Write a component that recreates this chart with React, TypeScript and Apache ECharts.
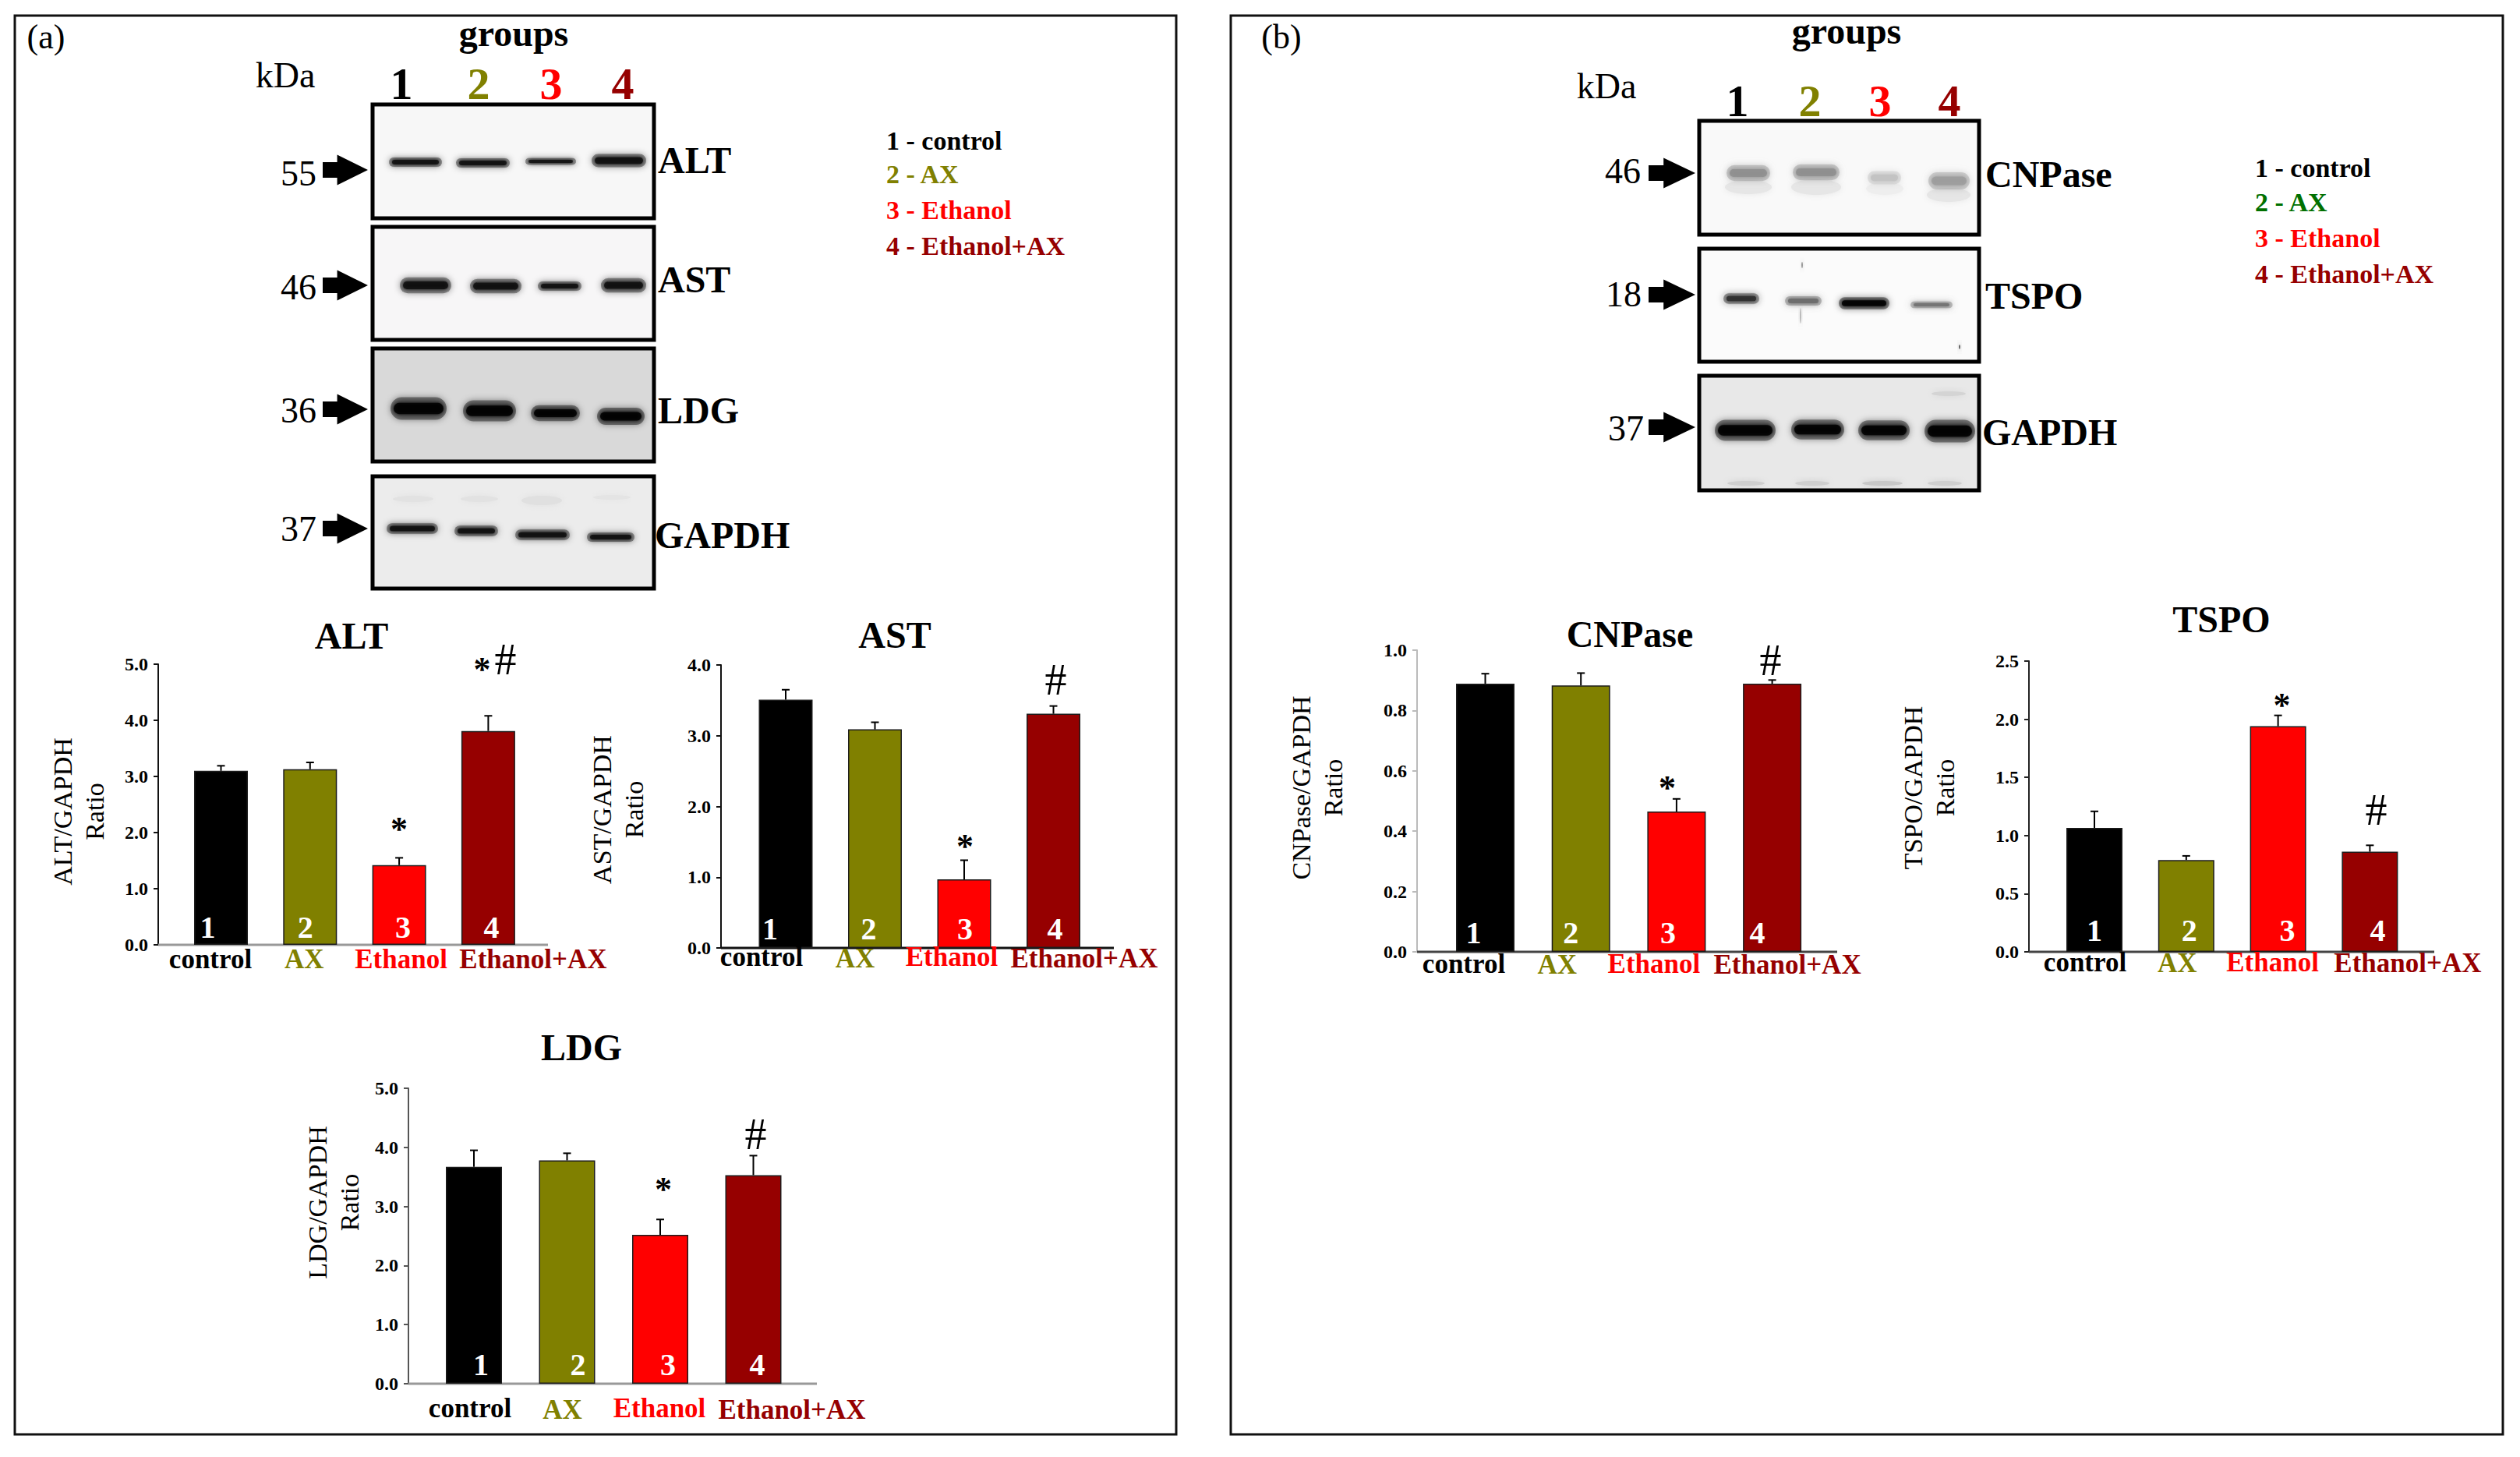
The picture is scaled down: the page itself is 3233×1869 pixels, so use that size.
import React, { useEffect, useRef } from "react";
import * as echarts from "echarts";

// ---------- data ----------
const categories = ["control", "AX", "Ethanol", "Ethanol+AX"];
const barNumbers = ["1", "2", "3", "4"];
const legendA = ["1 - control", "2 - AX", "3 - Ethanol", "4 - Ethanol+AX"];

const altValues = [3.1, 3.13, 1.42, 3.81];
const altTops = [3.19, 3.25, 1.55, 4.08];
const astValues = [3.51, 3.09, 0.97, 3.31];
const astTops = [3.65, 3.19, 1.24, 3.42];
const ldgValues = [3.67, 3.78, 2.52, 3.53];
const ldgTops = [3.95, 3.9, 2.78, 3.86];
const cnpaseValues = [0.889, 0.883, 0.465, 0.889];
const cnpaseTops = [0.922, 0.924, 0.507, 0.901];
const tspoValues = [1.065, 0.79, 1.94, 0.861];
const tspoTops = [1.208, 0.825, 2.033, 0.916];

const altMarks: [number, number, string, number][] = [[2, 2.12, "*", 0], [3, 4.97, "*", -8], [3, 5.09, "#", 22]];
const astMarks: [number, number, string, number][] = [[2, 1.48, "*", 1], [3, 3.79, "#", 3]];
const ldgMarks: [number, number, string, number][] = [[2, 3.34, "*", 4], [3, 4.22, "#", 3]];
const cnpaseMarks: [number, number, string, number][] = [[2, 0.553, "*", -12], [3, 0.966, "#", -2]];
const tspoMarks: [number, number, string, number][] = [[2, 2.15, "*", 5], [3, 1.22, "#", 8]];

// ---------- styles and layout ----------
const SERIF = "'Liberation Serif', 'Times New Roman', serif";
const BLACK = "#000000";
const OLIVE = "#808000";
const RED = "#ff0000";
const DARKRED = "#960000";
const barColors = [BLACK, OLIVE, RED, DARKRED];

type Panel = {
  title: string; titleX: number; titleY: number; name: string; nameGap: number; nameShift: number;
  axisX: number; axisRight: number; yTop: number; yZero: number; center0: number; spacing: number; barW: number;
  max: number; interval: number; values: number[]; tops: number[]; marks: [number, number, string, number][];
  labelDx: number[]; labelDy: number[]; labelMargin: number; numDx: number[]; numY: number;
  yLine: string; xLine: string; xLineW: number;
};

const panels: Panel[] = [
  { title: "ALT", titleX: 446, titleY: 811, name: "ALT/GAPDH\nRatio", nameGap: 61, nameShift: 9, axisX: 203, axisRight: 703, yTop: 852, yZero: 1212, center0: 283.5, spacing: 114.3, barW: 69,
    max: 5, interval: 1, values: altValues, tops: altTops, marks: altMarks, labelDx: [-13.5, -7.5, 2.5, 57.5], labelDy: [0, 0, 0, 0], labelMargin: 1, numDx: [-17, -6, 5, 4], numY: 1189, yLine: "#111", xLine: "#999", xLineW: 3 },
  { title: "AST", titleX: 1143, titleY: 810, name: "AST/GAPDH\nRatio", nameGap: 91, nameShift: 4, axisX: 925, axisRight: 1429, yTop: 853, yZero: 1216, center0: 1008, spacing: 114.5, barW: 69,
    max: 4, interval: 1, values: astValues, tops: astTops, marks: astMarks, labelDx: [-31, -25.5, -16, 39.5], labelDy: [0, 2, 0, 2], labelMargin: -6, numDx: [-20, -8, 1, 2], numY: 1191, yLine: "#111", xLine: "#111", xLineW: 3 },
  { title: "LDG", titleX: 741, titleY: 1339, name: "LDG/GAPDH\nRatio", nameGap: 55, nameShift: -43, axisX: 524, axisRight: 1048, yTop: 1396, yZero: 1775, center0: 608, spacing: 119.5, barW: 72,
    max: 5, interval: 1, values: ldgValues, tops: ldgTops, marks: ldgMarks, labelDx: [-5, -6, -1, 49.5], labelDy: [0, 2, 0, 2], labelMargin: 14, numDx: [9, 14, 10, 5], numY: 1750, yLine: "#555", xLine: "#999", xLineW: 3 },
  { title: "CNPase", titleX: 2086, titleY: 809, name: "CNPase/GAPDH\nRatio", nameGap: 87, nameShift: -17, axisX: 1818, axisRight: 2357, yTop: 834, yZero: 1221, center0: 1905.5, spacing: 122.7, barW: 75,
    max: 1, interval: 0.2, values: cnpaseValues, tops: cnpaseTops, marks: cnpaseMarks, labelDx: [-27.5, -30.5, -29, 19.5], labelDy: [0, 1, 0, 1], labelMargin: -2, numDx: [-15, -13, -11, -19], numY: 1196, yLine: "#bbb", xLine: "#444", xLineW: 3 },
  { title: "TSPO", titleX: 2845, titleY: 790, name: "TSPO/GAPDH\nRatio", nameGap: 87, nameShift: -24, axisX: 2603, axisRight: 3123, yTop: 848, yZero: 1221, center0: 2687, spacing: 117.8, barW: 72,
    max: 2.5, interval: 0.5, values: tspoValues, tops: tspoTops, marks: tspoMarks, labelDx: [-12, -11.5, -7, 48.5], labelDy: [0, 1, 0, 1], labelMargin: -4, numDx: [0, 4, 12, 10], numY: 1193, yLine: "#222", xLine: "#444", xLineW: 3 },
];

function txt(text: string, x: number, y: number, size: number, fill = "#000", bold = false, align = "center") {
  return {
    type: "text", x, y, z: 5,
    style: { text, fill, font: `${bold ? "bold " : ""}${size}px ${SERIF}`, textAlign: align, textVerticalAlign: "middle" },
  };
}
function arrow(xl: number, xr: number, y: number) {
  const xm = xl + (xr - xl) * 0.32, h = 19.5, s = 10;
  return {
    type: "polygon", z: 5,
    shape: { points: [[xl, y - s], [xm, y - s], [xm, y - h], [xr, y], [xm, y + h], [xm, y + s], [xl, y + s]] },
    style: { fill: "#000" },
  };
}
function smear(cx: number, cy: number, rx: number, ry: number, c: string) {
  return { type: "ellipse", z: 2, shape: { cx, cy, rx, ry }, style: { fill: c, shadowBlur: 8, shadowColor: c } };
}
function blot(x: number, y: number, w: number, h: number, bg: string, bands: any[][], color = "#111", extras: any[] = []) {
  const out: any[] = [{ type: "rect", z: 1, shape: { x, y, width: w, height: h }, style: { fill: bg, stroke: "none" } }];
  out.push(...extras);
  for (const b of bands) {
    const c = b[4] || color;
    const ht = b[3] * 1.7;
    // soft halo, then the dense core of the band
    out.push({
      type: "rect", z: 2, shape: { x: b[0] + 2, y: b[2] - ht / 2, width: b[1] - b[0] - 4, height: ht, r: ht / 2 },
      style: { fill: c, opacity: 0.4, shadowBlur: 9, shadowColor: c },
    });
    out.push({
      type: "rect", z: 2, shape: { x: b[0] + 6, y: b[2] - b[3] * 0.42, width: b[1] - b[0] - 12, height: b[3] * 0.84, r: b[3] * 0.42 },
      style: { fill: c, opacity: 0.85, shadowBlur: 5, shadowColor: c },
    });
  }
  out.push({ type: "rect", z: 3, shape: { x, y, width: w, height: h }, style: { fill: "none", stroke: "#000", lineWidth: 5 } });
  return out;
}

function buildGraphics() {
  const g: any[] = [];
  g.push({ type: "rect", z: 0, shape: { x: 19, y: 20, width: 1490, height: 1820 }, style: { fill: "none", stroke: "#111", lineWidth: 3 } });
  g.push({ type: "rect", z: 0, shape: { x: 1579, y: 20, width: 1632, height: 1820 }, style: { fill: "none", stroke: "#111", lineWidth: 3 } });
  g.push(txt("(a)", 59, 47, 44), txt("(b)", 1644, 47, 44));
  g.push(txt("groups", 659, 42, 48, "#000", true), txt("groups", 2369, 39, 48, "#000", true));
  g.push(txt("kDa", 366, 96, 46), txt("kDa", 2061, 110, 46));
  [515, 614, 707, 799].forEach((x, i) => g.push(txt(barNumbers[i], x, 107, 58, barColors[i], true)));
  [2229, 2322, 2412, 2501].forEach((x, i) => g.push(txt(barNumbers[i], x, 129, 58, barColors[i], true)));

  // panel (a) blots
  g.push(...blot(478, 134, 361, 146, "#f7f7f7", [[497, 569, 208, 7], [583, 656, 209, 7], [672, 741, 207, 5], [757, 831, 206, 10]]));
  g.push(...blot(478, 291, 361, 145, "#f7f6f7", [[511, 581, 366, 12], [601, 671, 367, 11], [688, 748, 367, 7], [769, 831, 366, 11]]));
  g.push(...blot(478, 447, 361, 145, "#d9d9d9", [[499, 575, 524, 17], [592, 664, 527, 16], [679, 746, 530, 12], [764, 829, 534, 13]], "#000"));
  g.push(...blot(478, 611, 361, 144, "#ececec", [[494, 564, 678, 8], [581, 641, 681, 8], [659, 733, 686, 8], [751, 816, 689, 7]], "#111", [
    smear(530, 640, 26, 4, "#e2e2e2"), smear(615, 640, 24, 4, "#e2e2e2"), smear(695, 642, 26, 6, "#e0e0e0"), smear(785, 638, 24, 3, "#e4e4e4"),
  ]));
  // panel (b) blots
  g.push(...blot(2180, 155, 359, 146, "#f9f9f9", [
    [2213, 2273, 222, 12, "#8e8e8e"], [2298, 2362, 221, 12, "#8e8e8e"], [2394, 2441, 228, 10, "#c2c2c2"], [2472, 2529, 232, 13, "#9c9c9c"]], "#999", [
    smear(2243, 240, 30, 9, "#e6e6e6"), smear(2330, 240, 32, 10, "#e6e6e6"), smear(2418, 242, 24, 8, "#eeeeee"), smear(2500, 250, 28, 9, "#e6e6e6"),
  ]));
  g.push(...blot(2180, 319, 359, 145, "#fbfbfb", [[2209, 2259, 383, 8, "#2a2a2a"], [2288, 2339, 386, 7, "#6a6a6a"], [2357, 2426, 389, 9, "#000"], [2449, 2507, 391, 5, "#707070"]], "#111", [
    smear(2312, 340, 1, 4, "#999"), smear(2310, 405, 1, 10, "#bbb"), smear(2514, 445, 1, 3, "#666"),
  ]));
  g.push(...blot(2180, 482, 359, 147, "#e8e8e8", [[2198, 2280, 552, 16], [2296, 2368, 551, 15], [2382, 2452, 552, 15], [2467, 2536, 553, 17]], "#000", [
    smear(2240, 620, 24, 3, "#cfcfcf"), smear(2325, 620, 22, 3, "#cfcfcf"), smear(2415, 620, 26, 3, "#c8c8c8"), smear(2495, 620, 22, 3, "#cfcfcf"),
    smear(2500, 505, 22, 3, "#d4d4d4"),
  ]));

  // molecular weight labels and arrows
  ([["55", 383, 222, 218], ["46", 383, 368, 366], ["36", 383, 526, 525], ["37", 383, 678, 678]] as [string, number, number, number][]).forEach(([t, x, y, ay]) => {
    g.push(txt(t, x, y, 46), arrow(414, 472, ay));
  });
  ([["46", 2082, 219, 222], ["18", 2083, 377, 378], ["37", 2086, 549, 548]] as [string, number, number, number][]).forEach(([t, x, y, ay]) => {
    g.push(txt(t, x, y, 46), arrow(2115, 2175, ay));
  });
  // blot labels
  ([["ALT", 844, 205], ["AST", 844, 358], ["LDG", 844, 526], ["GAPDH", 840, 686], ["CNPase", 2547, 223], ["TSPO", 2547, 379], ["GAPDH", 2543, 554]] as [string, number, number][]).forEach(([t, x, y]) => {
    g.push(txt(t, x, y, 48, "#000", true, "left"));
  });
  // legends
  [180, 223, 269, 315].forEach((y, i) => g.push(txt(legendA[i], 1137, y, 34, barColors[i], true, "left")));
  const legendBColors = [BLACK, "#007000", RED, DARKRED];
  [215, 259, 305, 351].forEach((y, i) => g.push(txt(legendA[i], 2893, y, 34, legendBColors[i], true, "left")));

  // x axis lines extend beyond the category bands
  panels.forEach((p) => {
    g.push({ type: "line", z: 1, shape: { x1: p.axisX, y1: p.yZero, x2: p.axisRight, y2: p.yZero }, style: { stroke: p.xLine, lineWidth: p.xLineW } });
  });
  return g;
}

function buildOption() {
  const grid: any[] = [], xAxis: any[] = [], yAxis: any[] = [], series: any[] = [], title: any[] = [];
  panels.forEach((p, k) => {
    const left = p.center0 - p.spacing / 2;
    grid.push({ left, top: p.yTop, width: p.spacing * 4, height: p.yZero - p.yTop, containLabel: false });
    title.push({
      text: p.title, left: p.titleX, top: p.titleY - 25, textAlign: "center",
      textStyle: { fontFamily: SERIF, fontWeight: "bold", fontSize: 48, color: "#000" },
    });
    xAxis.push({
      type: "category", gridIndex: k, z: 3,
      data: categories.map((c, i) => ({
        value: c,
        textStyle: {
          color: barColors[i],
          padding: [p.labelDy[i], p.labelDx[i] < 0 ? -p.labelDx[i] * 2 : 0, 0, p.labelDx[i] > 0 ? p.labelDx[i] * 2 : 0],
        },
      })),
      axisLine: { show: false },
      axisTick: { show: false },
      axisLabel: { interval: 0, hideOverlap: false, margin: p.labelMargin, fontFamily: SERIF, fontWeight: "bold", fontSize: 35 },
    });
    yAxis.push({
      type: "value", gridIndex: k, min: 0, max: p.max, interval: p.interval, offset: left - p.axisX,
      name: p.name, nameLocation: "middle", nameGap: p.nameGap,
      nameTextStyle: {
        fontFamily: SERIF, fontSize: 34, color: "#000", lineHeight: 41,
        padding: [0, p.nameShift > 0 ? p.nameShift * 2 : 0, 0, p.nameShift < 0 ? -p.nameShift * 2 : 0],
      },
      axisLine: { show: true, lineStyle: { color: p.yLine, width: 2 } },
      axisTick: { show: true, length: 6, lineStyle: { color: p.yLine, width: 2 } },
      splitLine: { show: false },
      axisLabel: {
        margin: 13, fontFamily: SERIF, fontWeight: "bold", fontSize: 24, color: "#000", padding: [0, 0, 3, 0],
        formatter: (v: number) => v.toFixed(1),
      },
    });
    series.push({
      type: "bar", xAxisIndex: k, yAxisIndex: k, barWidth: p.barW, z: 2,
      data: p.values.map((v, i) => ({
        value: v,
        itemStyle: { color: barColors[i], borderColor: "#1c1c1c", borderWidth: 1.5 },
        label: {
          show: true, position: "insideBottom", distance: 0, formatter: barNumbers[i],
          offset: [p.numDx[i], -(p.yZero - p.numY) + 20],
          color: "#fff", fontFamily: SERIF, fontWeight: "bold", fontSize: 40,
        },
      })),
    });
    series.push({
      type: "custom", xAxisIndex: k, yAxisIndex: k, z: 3, clip: false,
      data: p.tops.map((t, i) => [i, t, p.values[i]]),
      encode: { x: 0, y: 1 },
      renderItem: (_: any, api: any) => {
        const top = api.coord([api.value(0), api.value(1)]);
        const base = api.coord([api.value(0), api.value(2)]);
        const style = { stroke: "#000", lineWidth: 2 };
        return {
          type: "group",
          children: [
            { type: "line", shape: { x1: top[0], y1: top[1], x2: base[0], y2: base[1] }, style },
            { type: "line", shape: { x1: top[0] - 5, y1: top[1], x2: top[0] + 5, y2: top[1] }, style },
          ],
        };
      },
    });
    series.push({
      type: "custom", xAxisIndex: k, yAxisIndex: k, z: 4, clip: false,
      data: p.marks.map((m) => [m[0], m[1], m[2], m[3]]),
      encode: { x: 0, y: 1 },
      dimensions: ["x", "y", { name: "s", type: "ordinal" }, "dx"],
      renderItem: (params: any, api: any) => {
        const m = p.marks[params.dataIndex];
        const c = api.coord([m[0], m[1]]);
        const star = m[2] === "*";
        return {
          type: "text", x: c[0] + m[3], y: c[1] + (star ? 4 : 0),
          style: {
            text: m[2], fill: "#000", font: `${star ? "bold " : ""}${star ? 44 : 56}px ${SERIF}`,
            textAlign: "center", textVerticalAlign: "middle",
          },
        };
      },
    });
  });
  return {
    animation: false, backgroundColor: "#ffffff", tooltip: { show: false },
    title, grid, xAxis, yAxis, series, graphic: { elements: buildGraphics() },
  };
}

export default function App() {
  const ref = useRef<HTMLDivElement>(null);
  useEffect(() => {
    document.body.style.margin = "0";
    document.body.style.overflow = "hidden";
    const chart = echarts.init(ref.current!, undefined, { renderer: "svg", width: 3233, height: 1869 });
    chart.setOption(buildOption() as any);
    return () => chart.dispose();
  }, []);
  return <div ref={ref} style={{ width: 3233, height: 1869, background: "#fff" }} />;
}
